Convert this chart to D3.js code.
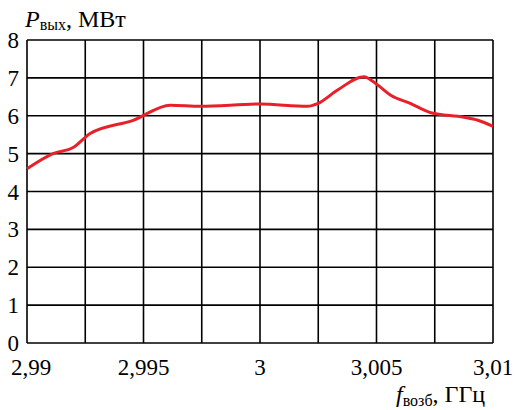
<!DOCTYPE html>
<html>
<head>
<meta charset="utf-8">
<script src="https://cdn.jsdelivr.net/npm/d3@7"></script>
<style>
  body { margin: 0; background: #fff; }
</style>
</head>
<body>
<div id="chart"></div>
<script>
// data
var freq = [2.99, 2.99112, 2.99198, 2.99271, 2.99456, 2.99615, 2.99744, 3.0, 3.00204, 3.00247,
  3.00333, 3.00445, 3.00505, 3.00561, 3.00647, 3.00733, 3.00875, 3.00935, 3.01];
var power = [4.6, 5.0, 5.16, 5.53, 5.88, 6.28, 6.25, 6.31, 6.25, 6.32,
  6.68, 7.03, 6.81, 6.54, 6.32, 6.08, 5.96, 5.88, 5.72];
var xTicks = [2.99, 2.995, 3.0, 3.005, 3.01];
var xTickLabels = ["2,99", "2,995", "3", "3,005", "3,01"];
var yTicks = [0, 1, 2, 3, 4, 5, 6, 7, 8];

var serif = "Liberation Serif";

var svgWidth = 516;
var svgHeight = 410;
var margin = { top: 40, right: 23, bottom: 67, left: 27 };
var width = svgWidth - margin.left - margin.right;
var height = svgHeight - margin.top - margin.bottom;

var svg = d3.select("#chart")
  .append("svg")
  .attr("width", svgWidth)
  .attr("height", svgHeight)
  .style("font-family", serif);

var chartGroup = svg.append("g")
  .attr("transform", `translate(${margin.left}, ${margin.top})`);

var x = d3.scaleLinear().domain([2.99, 3.01]).range([0, width]);
var y = d3.scaleLinear().domain([0, 8]).range([height, 0]);

// grid: 8 columns, 8 rows
var xGrid = d3.range(9).map(i => 2.99 + i * 0.0025);
chartGroup.selectAll(".vgrid")
  .data(xGrid)
  .enter()
  .append("line")
  .attr("x1", d => x(d)).attr("x2", d => x(d))
  .attr("y1", 0).attr("y2", height)
  .attr("stroke", "#000").attr("stroke-width", 1.6);

chartGroup.selectAll(".hgrid")
  .data(yTicks)
  .enter()
  .append("line")
  .attr("x1", 0).attr("x2", width)
  .attr("y1", d => y(d)).attr("y2", d => y(d))
  .attr("stroke", "#000").attr("stroke-width", 1.6);

// tick labels
chartGroup.selectAll(".xlab")
  .data(xTicks)
  .enter()
  .append("text")
  .attr("x", (d, i) => x(d) + (i === 0 ? 4 : 0))
  .attr("y", height + 32)
  .attr("text-anchor", "middle")
  .style("font-family", serif)
  .style("font-size", "23px")
  .text((d, i) => xTickLabels[i]);

chartGroup.selectAll(".ylab")
  .data(yTicks)
  .enter()
  .append("text")
  .attr("x", -8)
  .attr("y", d => y(d) + 8)
  .attr("text-anchor", "end")
  .style("font-family", serif)
  .style("font-size", "23px")
  .text(d => d);

// curve
var line = d3.line()
  .x((d, i) => x(freq[i]))
  .y(d => y(d))
  .curve(d3.curveMonotoneX);

chartGroup.append("path")
  .datum(power)
  .attr("d", line)
  .attr("fill", "none")
  .attr("stroke", "#e8202a")
  .attr("stroke-width", 3);

// axis titles
var yTitle = svg.append("text")
  .attr("x", 25)
  .attr("y", 27)
  .style("font-family", serif)
  .style("font-size", "24px");
yTitle.append("tspan").style("font-style", "italic").text("P");
yTitle.append("tspan").attr("dy", 3).style("font-size", "16px").text("вых");
yTitle.append("tspan").attr("dy", -3).text(", МВт");

var xTitle = svg.append("text")
  .attr("x", 396)
  .attr("y", 402)
  .style("font-family", serif)
  .style("font-size", "24px");
xTitle.append("tspan").style("font-style", "italic").text("f");
xTitle.append("tspan").attr("dy", 4).style("font-size", "16px").text("возб");
xTitle.append("tspan").attr("dy", -4).text(", ГГц");
</script>
</body>
</html>
